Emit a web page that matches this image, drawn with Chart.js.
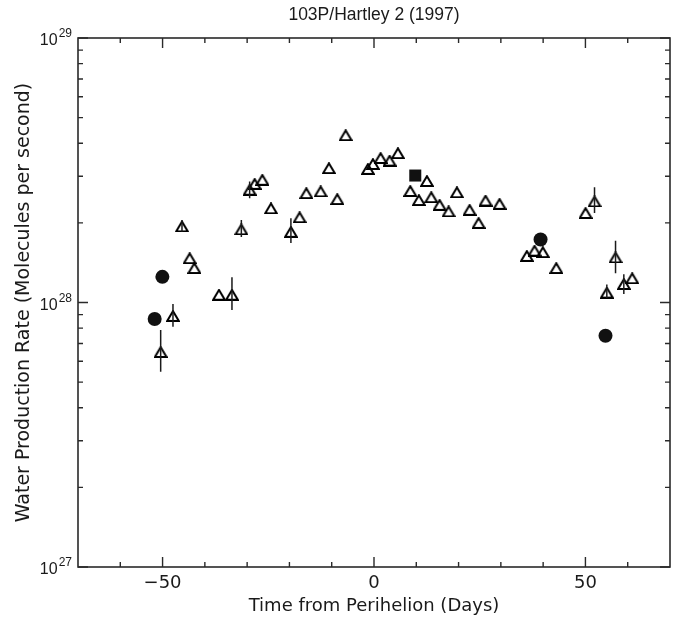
<!DOCTYPE html>
<html>
<head>
<meta charset="utf-8">
<script src="https://cdn.jsdelivr.net/npm/chart.js@4"></script>
<style>
  html, body { margin: 0; padding: 0; background: #fff; }
</style>
</head>
<body>
<canvas id="chart" width="681" height="629"></canvas>
<script>
// open triangles: days from perihelion, rate, error bar low/high (null = none)
const triDays = [-50.45, -47.54, -45.41, -43.59, -42.48, -36.67, -33.59, -31.37, -29.41, -28.23,
  -26.41, -24.37, -19.65, -17.59, -16.0, -12.62, -10.66, -8.68, -6.71, -1.44,
  -0.26, 1.56, 3.69, 5.65, 8.58, 10.61, 12.51, 13.55, 15.51, 17.64,
  19.6, 22.6, 24.73, 26.38, 29.69, 36.15, 37.97, 39.93, 43.1, 50.02,
  52.15, 55.06, 57.12, 59.08, 61.06];
const triRates = [6.5e27, 8.9e27, 1.94e28, 1.47e28, 1.35e28, 1.07e28, 1.07e28, 1.89e28, 2.67e28, 2.81e28,
  2.91e28, 2.27e28, 1.85e28, 2.10e28, 2.59e28, 2.63e28, 3.22e28, 2.46e28, 4.29e28, 3.20e28,
  3.34e28, 3.52e28, 3.44e28, 3.67e28, 2.64e28, 2.44e28, 2.88e28, 2.50e28, 2.34e28, 2.21e28,
  2.61e28, 2.24e28, 2.00e28, 2.43e28, 2.36e28, 1.50e28, 1.57e28, 1.55e28, 1.35e28, 2.18e28,
  2.41e28, 1.09e28, 1.48e28, 1.175e28, 1.235e28];
const triErrLow = [5.47e27, 8.09e27, 1.85e28, null, null, null, 9.37e27, 1.77e28, 2.48e28, null,
  null, null, 1.68e28, null, null, null, null, null, null, null,
  null, null, null, null, null, null, null, null, null, null,
  null, null, null, null, null, null, null, null, null, null,
  2.18e28, 1.04e28, 1.29e28, 1.077e28, null];
const triErrHigh = [7.87e27, 9.87e27, 2.03e28, null, null, null, 1.246e28, 2.05e28, 2.87e28, null,
  null, null, 2.08e28, null, null, null, null, null, null, null,
  null, null, null, null, null, null, null, null, null, null,
  null, null, null, null, null, null, null, null, null, null,
  2.73e28, 1.17e28, 1.71e28, 1.28e28, null];

// filled circles
const circleDays = [-51.87, -50.05, 39.39, 54.75];
const circleRates = [8.66e27, 1.25e28, 1.73e28, 7.49e27];

// filled square
const squareDays = [9.76];
const squareRates = [3.02e28];

// axis ticks
const xMajorTicks = [-50, 0, 50];
const xMinorTicks = [-60, -40, -30, -20, -10, 10, 20, 30, 40, 60];
const yDecades = [27, 28, 29];
const yMinorMult = [2, 3, 4, 5, 6, 7, 8, 9];

const ink = '#1a1a1a';

function toPoints(xs, ys) {
  return xs.map((x, i) => ({ x, y: ys[i] }));
}

// open triangle marker, centred on its mid-height like the original symbol
const triMarker = document.createElement('canvas');
triMarker.width = 14;
triMarker.height = 12;
{
  const c = triMarker.getContext('2d');
  c.strokeStyle = '#000';
  c.lineWidth = 2;
  c.lineJoin = 'miter';
  c.beginPath();
  c.moveTo(1.2, 11);
  c.lineTo(7, 1.2);
  c.lineTo(12.8, 11);
  c.closePath();
  c.stroke();
}

const frame = {
  id: 'frame',
  afterDatasetsDraw(chart) {
    const ctx = chart.ctx;
    const xs = chart.scales.x;
    const ys = chart.scales.y;
    ctx.save();
    ctx.strokeStyle = ink;
    ctx.lineWidth = 1.5;
    ctx.beginPath();
    triDays.forEach((d, i) => {
      if (triErrLow[i] == null) return;
      const px = xs.getPixelForValue(d);
      ctx.moveTo(px, ys.getPixelForValue(triErrLow[i]));
      ctx.lineTo(px, ys.getPixelForValue(triErrHigh[i]));
    });
    ctx.stroke();
    ctx.restore();
  },
  afterDraw(chart) {
    const ctx = chart.ctx;
    const { left, right, top, bottom } = chart.chartArea;
    const xs = chart.scales.x;
    const ys = chart.scales.y;
    ctx.save();
    ctx.strokeStyle = '#2a2a2a';
    ctx.lineWidth = 1.6;
    ctx.strokeRect(left, top, right - left, bottom - top);

    ctx.lineWidth = 1.4;
    ctx.beginPath();
    const xTick = (v, len) => {
      const px = xs.getPixelForValue(v);
      ctx.moveTo(px, bottom); ctx.lineTo(px, bottom - len);
      ctx.moveTo(px, top); ctx.lineTo(px, top + len);
    };
    xMajorTicks.forEach(v => xTick(v, 10));
    xMinorTicks.forEach(v => xTick(v, 5));
    const yTick = (v, len) => {
      const py = ys.getPixelForValue(v);
      ctx.moveTo(left, py); ctx.lineTo(left + len, py);
      ctx.moveTo(right, py); ctx.lineTo(right - len, py);
    };
    yDecades.forEach((d, k) => {
      yTick(Math.pow(10, d), 10);
      if (k < yDecades.length - 1) {
        yMinorMult.forEach(m => yTick(m * Math.pow(10, d), 5));
      }
    });
    ctx.stroke();

    // y tick labels 10^n
    ctx.fillStyle = ink;
    ctx.textBaseline = 'middle';
    ctx.textAlign = 'right';
    yDecades.forEach(d => {
      const py = ys.getPixelForValue(Math.pow(10, d));
      ctx.font = '12px "Liberation Sans"';
      const ew = ctx.measureText(String(d)).width;
      ctx.fillText(String(d), left - 6, py - 4);
      ctx.font = '16px "Liberation Sans"';
      ctx.fillText('10', left - 7 - ew, py + 3);
    });

    // title
    ctx.textAlign = 'center';
    ctx.font = '17.5px "Liberation Sans"';
    ctx.fillText('103P/Hartley 2 (1997)', (left + right) / 2, 15);
    ctx.restore();
  }
};

new Chart(document.getElementById('chart'), {
  type: 'scatter',
  data: {
    datasets: [
      {
        label: 'triangles',
        data: toPoints(triDays, triRates),
        pointStyle: triMarker,
        pointRadius: 7,
        borderColor: '#000',
        backgroundColor: 'transparent'
      },
      {
        label: 'circles',
        data: toPoints(circleDays, circleRates),
        pointStyle: 'circle',
        pointRadius: 7,
        borderWidth: 0,
        backgroundColor: '#111',
        borderColor: '#111'
      },
      {
        label: 'square',
        data: toPoints(squareDays, squareRates),
        pointStyle: 'rect',
        pointRadius: 8.5,
        borderWidth: 0,
        backgroundColor: '#111',
        borderColor: '#111'
      }
    ]
  },
  options: {
    responsive: false,
    animation: false,
    layout: { padding: { top: 38, right: 11, left: 0, bottom: 0 } },
    plugins: {
      legend: { display: false },
      tooltip: { enabled: false },
      title: { display: false }
    },
    scales: {
      x: {
        type: 'linear',
        min: -70,
        max: 70,
        afterBuildTicks: s => { s.ticks = xMajorTicks.map(v => ({ value: v })); },
        afterFit: s => { s.height = 62; },
        grid: { display: false, drawTicks: false },
        border: { display: false },
        ticks: {
          autoSkip: false,
          maxRotation: 0,
          padding: 6,
          color: ink,
          font: { family: 'DejaVu Sans', size: 18 },
          callback: v => (v < 0 ? '\u2212' + Math.abs(v) : String(v))
        },
        title: {
          display: true,
          text: 'Time from Perihelion (Days)',
          color: ink,
          font: { family: 'DejaVu Sans', size: 18 },
          padding: { top: 0, bottom: 12 }
        }
      },
      y: {
        type: 'logarithmic',
        min: 1e27,
        max: 1e29,
        afterFit: s => { s.width = 78; },
        grid: { display: false, drawTicks: false },
        border: { display: false },
        ticks: { display: false },
        title: {
          display: true,
          text: 'Water Production Rate (Molecules per second)',
          color: ink,
          font: { family: 'DejaVu Sans', size: 19 },
          padding: { top: 13, bottom: 0 }
        }
      }
    }
  },
  plugins: [frame]
});
</script>
</body>
</html>
